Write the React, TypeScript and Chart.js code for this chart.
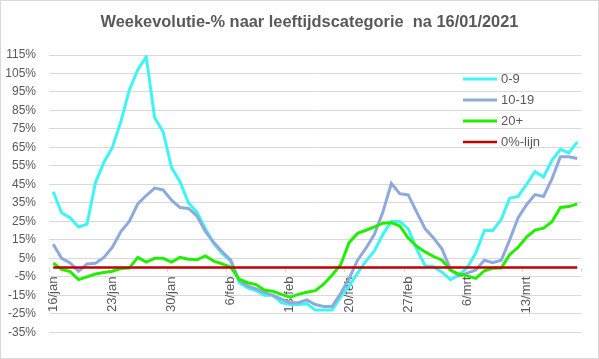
import React, { useEffect, useRef } from "react";
import { Chart, registerables } from "chart.js";

Chart.register(...registerables);

const chartTitle = "Weekevolutie-% naar leeftijdscategorie  na 16/01/2021";

const dates = [
  "16/jan", "17/jan", "18/jan", "19/jan", "20/jan", "21/jan", "22/jan", "23/jan",
  "24/jan", "25/jan", "26/jan", "27/jan", "28/jan", "29/jan", "30/jan", "31/jan",
  "1/feb", "2/feb", "3/feb", "4/feb", "5/feb", "6/feb", "7/feb", "8/feb",
  "9/feb", "10/feb", "11/feb", "12/feb", "13/feb", "14/feb", "15/feb", "16/feb",
  "17/feb", "18/feb", "19/feb", "20/feb", "21/feb", "22/feb", "23/feb", "24/feb",
  "25/feb", "26/feb", "27/feb", "28/feb", "1/mrt", "2/mrt", "3/mrt", "4/mrt",
  "5/mrt", "6/mrt", "7/mrt", "8/mrt", "9/mrt", "10/mrt", "11/mrt", "12/mrt",
  "13/mrt", "14/mrt", "15/mrt", "16/mrt", "17/mrt", "18/mrt", "19/mrt",
];

const age0to9 = [
  41, 29.5, 27, 22, 23.5, 46, 57, 65, 79, 96, 107, 114, 81, 73.5, 54, 46.5,
  35, 30, 21, 13, 7.7, 3.5, -8, -11, -12.5, -15, -15, -19, -20, -20, -19.5, -23,
  -23, -23, -16, -10, -3, 3.5, 9, 18, 25, 25, 21, 10, 1, 0.5, -2.5, -6.5,
  -4, 0, 8, 20, 20, 26, 37.5, 38.5, 45, 52, 49, 58, 64, 62, 68,
];

const age10to19 = [
  12.6, 5, 2.5, -2, 2, 2.3, 5.5, 11, 19.5, 25, 34.5, 39, 43, 42, 36.5, 32.5,
  32, 28, 19.5, 13.5, 8.6, 4, -7, -10, -11.5, -13.5, -15, -17, -19, -19, -17.5, -20,
  -21, -21, -14, -6, 4, 10.5, 18, 30, 45.5, 40, 39.3, 30, 21, 16, 10, -1,
  -4.5, -3, -1.3, 4, 2.6, 4, 15, 27, 34, 39.5, 38.5, 48, 60, 60, 59,
];

const age20plus = [
  2.5, -1, -2.2, -6.5, -5, -3.5, -2.7, -2, -0.5, -0.3, 5.5, 3, 5, 5, 3, 5.5,
  4.5, 4.2, 6.3, 3.5, 2, 0.2, -6.3, -8.2, -9.2, -12.3, -12.8, -14.5, -16, -14.5, -13.3, -12.5,
  -9, -4, 1.5, 13.5, 18.5, 20.2, 22, 24, 24.3, 22.5, 16, 11.5, 8.5, 6, 4, -1.5,
  -3.5, -4.5, -5.8, -1.7, -0.4, -0.2, 7, 11, 16.5, 20.3, 21.3, 24.8, 32.5, 33, 34.5,
];

const zeroLine = [
  0, 0, 0, 0, 0, 0, 0, 0, 0, 0, 0, 0, 0, 0, 0, 0,
  0, 0, 0, 0, 0, 0, 0, 0, 0, 0, 0, 0, 0, 0, 0, 0,
  0, 0, 0, 0, 0, 0, 0, 0, 0, 0, 0, 0, 0, 0, 0, 0,
  0, 0, 0, 0, 0, 0, 0, 0, 0, 0, 0, 0, 0, 0, 0,
];

const seriesNames = ["0-9", "10-19", "20+", "0%-lijn"];
const seriesColors = ["#3DF5F5", "#8EA9DB", "#22EE00", "#C00000"];

const yMin = -35;
const yMax = 115;
const yStep = 10;

const textColor = "#595959";
const gridColor = "#d9d9d9";
const fontFamily = "'Liberation Sans', Arial, sans-serif";

const titlePlugin = {
  id: "excelTitle",
  afterDraw(chart: any) {
    const ctx = chart.ctx;
    ctx.save();
    ctx.fillStyle = textColor;
    ctx.font = `bold 16.4px ${fontFamily}`;
    ctx.textAlign = "center";
    ctx.textBaseline = "middle";
    ctx.fillText(chartTitle, 308.5, 21);
    ctx.restore();
  },
};

const legendPlugin = {
  id: "excelLegend",
  afterDraw(chart: any) {
    const ctx = chart.ctx;
    ctx.save();
    chart.data.datasets.forEach((ds: any, i: number) => {
      const y = 78 + i * 21;
      ctx.strokeStyle = ds.borderColor;
      ctx.lineWidth = ds.borderWidth;
      ctx.beginPath();
      ctx.moveTo(462, y);
      ctx.lineTo(496, y);
      ctx.stroke();
      ctx.fillStyle = textColor;
      ctx.font = `13px ${fontFamily}`;
      ctx.textAlign = "left";
      ctx.textBaseline = "middle";
      ctx.fillText(ds.label, 500, y + 0.5);
    });
    ctx.restore();
  },
};

export default function App() {
  const canvasRef = useRef<HTMLCanvasElement | null>(null);

  useEffect(() => {
    document.body.style.margin = "0";
    const canvas = canvasRef.current;
    if (!canvas) return;
    const values = [age0to9, age10to19, age20plus, zeroLine];
    const chart = new Chart(canvas, {
      type: "line",
      data: {
        labels: dates,
        datasets: values.map((v, i) => ({
          label: seriesNames[i],
          data: v,
          borderColor: seriesColors[i],
          backgroundColor: seriesColors[i],
          borderWidth: i === 3 ? 2.5 : 3,
          pointRadius: 0,
          tension: 0,
          fill: false,
          order: 4 - i,
        })),
      },
      options: {
        responsive: false,
        maintainAspectRatio: false,
        animation: false,
        devicePixelRatio: 1,
        layout: { padding: { left: 0, right: 13.5, top: 54, bottom: 25.7 } },
        plugins: {
          legend: { display: false },
          tooltip: { enabled: false },
          title: { display: false },
        },
        scales: {
          x: {
            type: "category",
            position: { y: 0 } as any,
            offset: true,
            border: { display: false },
            grid: {
              offset: true,
              drawOnChartArea: false,
              drawTicks: true,
              tickLength: 4,
              color: (c: any) =>
                c.index === undefined || c.index % 7 === 0 ? gridColor : "rgba(0,0,0,0)",
            },
            ticks: {
              autoSkip: false,
              minRotation: 90,
              maxRotation: 90,
              padding: 5,
              color: textColor,
              font: { family: fontFamily, size: 13 },
              callback: (_v: any, i: number) => (i % 7 === 0 ? dates[i] : ""),
            },
          },
          y: {
            type: "linear",
            min: yMin,
            max: yMax,
            border: { display: false },
            grid: { color: gridColor, lineWidth: 1, drawTicks: false },
            afterFit: (s: any) => {
              s.width = 48;
            },
            ticks: {
              stepSize: yStep,
              padding: 13,
              color: textColor,
              font: { family: fontFamily, size: 12 },
              callback: (v: any) => `${v}%`,
            },
          },
        },
      },
      plugins: [titlePlugin, legendPlugin],
    });
    return () => chart.destroy();
  }, []);

  return (
    <div
      style={{
        position: "absolute",
        left: 0,
        top: 0,
        width: 599,
        height: 359,
        border: `1px solid ${gridColor}`,
        boxSizing: "border-box",
        background: "#fff",
      }}
    >
      <canvas ref={canvasRef} width={597} height={357} style={{ display: "block" }} />
    </div>
  );
}
